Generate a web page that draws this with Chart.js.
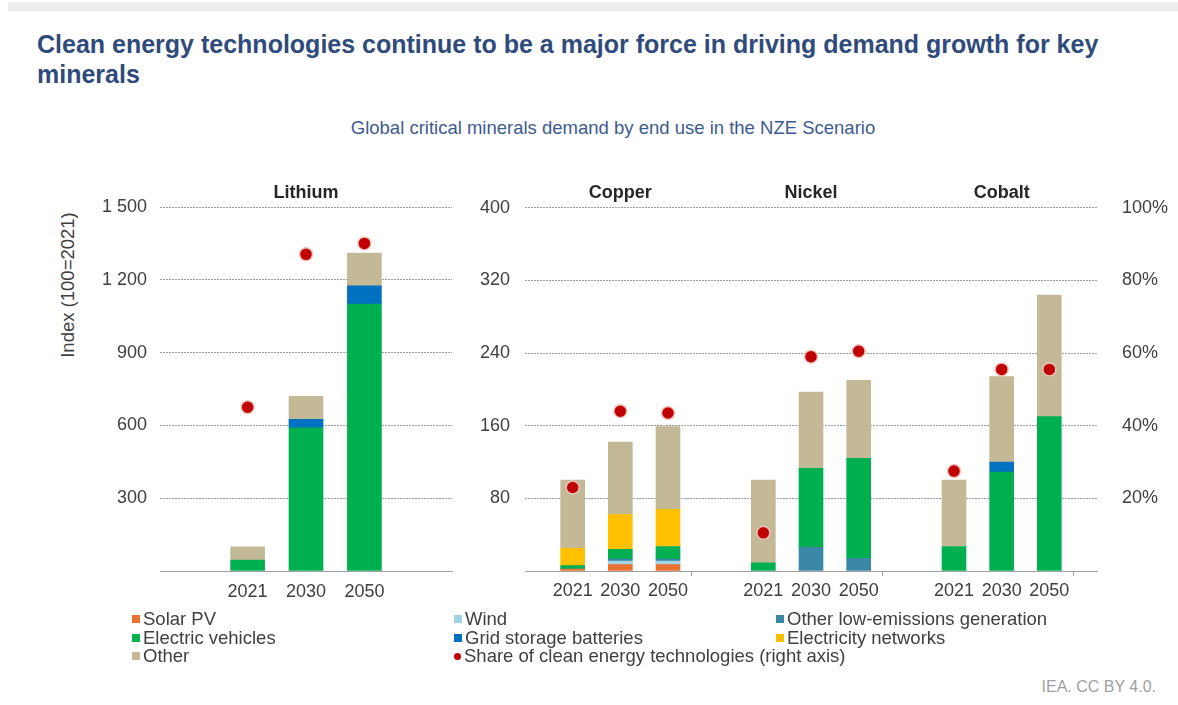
<!DOCTYPE html>
<html>
<head>
<meta charset="utf-8">
<script src="https://cdn.jsdelivr.net/npm/chart.js@4.4.0/dist/chart.umd.min.js"></script>
<style>
    body { margin: 0; background: #fff; font-family: "Liberation Sans", Arial, sans-serif; }
    #page { position: relative; width: 1178px; height: 705px; overflow: hidden; }
    .topbar { position: absolute; left: 8px; top: 2px; right: 0; height: 9px; background: #ededed; }
    h1 { position: absolute; left: 37px; top: 29px; width: 1112px; margin: 0; font-size: 25px; line-height: 30px; color: #2f4b7c; font-weight: bold; }
    .sub { position: absolute; left: 0; width: 1226px; top: 117px; text-align: center; font-size: 18.5px; color: #3d5b8f; }
    .ytitle { position: absolute; left: -22px; top: 274px; width: 180px; text-align: center; font-size: 18.5px; color: #404040; transform: rotate(-90deg); }
    canvas { position: absolute; }
    #lithiumChart { left: 0; top: 180px; }
    #mineralsChart { left: 460px; top: 180px; }
    .legend-item { position: absolute; font-size: 18.5px; color: #404040; white-space: nowrap; line-height: 19px; }
    .legend-item i { display: inline-block; width: 8px; height: 8px; margin-right: 3px; vertical-align: 2px; }
    .legend-item i.dot { width: 7px; height: 7px; border-radius: 50%; }
    .credit { position: absolute; right: 22px; top: 678px; font-size: 16px; color: #a0a0a0; }
</style>
</head>
<body>
<div id="page">
    <div class="topbar"></div>
    <h1>Clean energy technologies continue to be a major force in driving demand growth for key minerals</h1>
    <div class="sub">Global critical minerals demand by end use in the NZE Scenario</div>
    <div class="ytitle">Index (100=2021)</div>
    <canvas id="lithiumChart" width="460" height="430"></canvas>
    <canvas id="mineralsChart" width="718" height="430"></canvas>
    <div id="legend"></div>
    <div class="credit">IEA. CC BY 4.0.</div>
</div>
<script>
// Years shown under every mineral
const years = ['2021', '2030', '2050'];
const minerals = ['Copper', 'Nickel', 'Cobalt'];

// Lithium (left axis, index 100=2021)
const lithiumEV = [45, 590, 1100];
const lithiumGrid = [0, 35, 75];
const lithiumOther = [55, 95, 135];
const lithiumShare = [45, 87, 90];

// Copper 2021/2030/2050, Nickel 2021/2030/2050, Cobalt 2021/2030/2050
const solarPV = [2, 7, 7, 0, 0, 0, 0, 0, 0];
const wind = [0, 4, 4, 0, 0, 0, 0, 0, 0];
const otherLowEmissions = [0, 2, 2, 0, 26, 14, 0, 0, 0];
const electricVehicles = [4, 11, 14, 9, 87, 110, 27, 109, 170];
const gridStorage = [0, 0, 0, 0, 0, 0, 0, 11, 0];
const electricityNetworks = [19, 38, 41, 0, 0, 0, 0, 0, 0];
const other = [75, 80, 91, 91, 84, 86, 73, 94, 134];
const cleanShare = [23, 44, 43.5, 10.5, 59, 60.5, 27.5, 55.5, 55.5];

// Tick labels
const lithiumTicks = [0, 300, 600, 900, 1200, 1500];
const indexTicks = [0, 80, 160, 240, 320, 400];
const shareTicks = [0, 20, 40, 60, 80, 100];

const colors = {
    solar: '#e97132',
    wind: '#a3d3e2',
    lowEm: '#3b87a8',
    ev: '#00b050',
    grid: '#0070c0',
    networks: '#ffc000',
    other: '#c4b996',
    share: '#c00000'
};

Chart.defaults.font.family = '"Liberation Sans", Arial, sans-serif';
Chart.defaults.font.size = 18;
Chart.defaults.color = '#404040';

const gridColor = '#a0a0a0';

function spaced(v) {
    return String(v).replace(/\B(?=(\d{3})+(?!\d))/g, ' ');
}

// Lithium: one empty slot either side; others: empty slot between minerals
const lithiumLabels = ['', ...years, ''];
const mineralLabels = [''];
minerals.forEach(() => { mineralLabels.push(...years, ''); });

function padLithium(arr) {
    return [null, ...arr.map(v => v === 0 ? null : v), null];
}

function spread(arr) {
    const out = [null];
    for (let m = 0; m < minerals.length; m++) {
        arr.slice(m * 3, m * 3 + 3).forEach(v => out.push(v === 0 ? null : v));
        out.push(null);
    }
    return out;
}

function barSet(label, data, color, thickness) {
    return { type: 'bar', label: label, data: data, backgroundColor: color, barThickness: thickness, order: 1, yAxisID: 'y' };
}

function shareSet(data) {
    return {
        type: 'line', label: 'Share of clean energy technologies (right axis)', data: data,
        showLine: false, yAxisID: 'y2', order: 0,
        pointRadius: 6.5, pointBackgroundColor: colors.share,
        pointBorderColor: '#f3c4bd', pointBorderWidth: 1.5
    };
}

// Panel names drawn above the plot area
const panelTitles = {
    id: 'panelTitles',
    afterDraw(chart, args, opts) {
        const ctx = chart.ctx;
        const xScale = chart.scales.x;
        ctx.save();
        ctx.font = 'bold 18px "Liberation Sans", Arial, sans-serif';
        ctx.fillStyle = '#262626';
        ctx.textAlign = 'center';
        ctx.textBaseline = 'middle';
        opts.names.forEach((name, i) => {
            ctx.fillText(name, xScale.getPixelForValue(opts.centers[i]), 13);
        });
        ctx.restore();
    }
};

function yScale(ticks, width, padding, position) {
    return {
        position: position,
        stacked: true,
        min: ticks[0],
        max: ticks[ticks.length - 1],
        afterBuildTicks: s => { s.ticks = ticks.map(v => ({ value: v })); },
        afterFit: s => { s.width = width; },
        border: { display: false, dash: [2, 1] },
        grid: {
            drawTicks: false,
            color: c => c.tick && c.tick.value === 0 ? 'transparent' : gridColor
        },
        ticks: {
            padding: padding,
            callback: v => v === 0 ? '' : spaced(v)
        }
    };
}

// Lithium chart
new Chart(document.getElementById('lithiumChart'), {
    type: 'bar',
    data: {
        labels: lithiumLabels,
        datasets: [
            shareSet(padLithium(lithiumShare)),
            barSet('Electric vehicles', padLithium(lithiumEV), colors.ev, 34),
            barSet('Grid storage batteries', padLithium(lithiumGrid), colors.grid, 34),
            barSet('Other', padLithium(lithiumOther), colors.other, 34)
        ]
    },
    options: {
        responsive: false,
        animation: false,
        layout: { padding: { top: 27, right: 7, left: 0, bottom: 0 } },
        plugins: {
            legend: { display: false },
            tooltip: { enabled: false },
            panelTitles: { names: ['Lithium'], centers: [2] }
        },
        scales: {
            x: {
                stacked: true,
                afterFit: s => { s.height = 39; },
                border: { display: true, color: gridColor },
                grid: { display: false },
                ticks: { padding: 2, maxRotation: 0, autoSkip: false }
            },
            y: yScale(lithiumTicks, 160, 13, 'left'),
            y2: { display: false, min: 0, max: 100 }
        }
    },
    plugins: [panelTitles]
});

// Copper, nickel and cobalt chart
const boundaryTicks = [0, 4, 8, 12];
new Chart(document.getElementById('mineralsChart'), {
    type: 'bar',
    data: {
        labels: mineralLabels,
        datasets: [
            shareSet(spread(cleanShare)),
            barSet('Solar PV', spread(solarPV), colors.solar, 24),
            barSet('Wind', spread(wind), colors.wind, 24),
            barSet('Other low-emissions generation', spread(otherLowEmissions), colors.lowEm, 24),
            barSet('Electric vehicles', spread(electricVehicles), colors.ev, 24),
            barSet('Grid storage batteries', spread(gridStorage), colors.grid, 24),
            barSet('Electricity networks', spread(electricityNetworks), colors.networks, 24),
            barSet('Other', spread(other), colors.other, 24)
        ]
    },
    options: {
        responsive: false,
        animation: false,
        layout: { padding: { top: 27, right: 0, left: 0, bottom: 0 } },
        plugins: {
            legend: { display: false },
            tooltip: { enabled: false },
            panelTitles: { names: minerals, centers: [2, 6, 10] }
        },
        scales: {
            x: {
                stacked: true,
                offset: false,
                afterFit: s => { s.height = 39; },
                border: { display: true, color: gridColor },
                grid: {
                    drawOnChartArea: false,
                    tickLength: 5,
                    tickColor: c => boundaryTicks.includes(c.index) ? gridColor : 'transparent'
                },
                ticks: { padding: 4, maxRotation: 0, autoSkip: false }
            },
            y: yScale(indexTicks, 65, 15, 'left'),
            y2: {
                position: 'right',
                min: 0,
                max: 100,
                afterBuildTicks: s => { s.ticks = shareTicks.map(v => ({ value: v })); },
                afterFit: s => { s.width = 81; },
                border: { display: false },
                grid: { display: false },
                ticks: { padding: 17, callback: v => v === 0 ? '' : v + '%' }
            }
        }
    },
    plugins: [panelTitles]
});

// Legend
const legendRows = [
    [['Solar PV', colors.solar], ['Wind', colors.wind], ['Other low-emissions generation', colors.lowEm]],
    [['Electric vehicles', colors.ev], ['Grid storage batteries', colors.grid], ['Electricity networks', colors.networks]],
    [['Other', colors.other], ['Share of clean energy technologies (right axis)', colors.share, true]]
];
const legendCols = [132, 454, 776];
const legendEl = document.getElementById('legend');
legendRows.forEach((row, r) => {
    row.forEach((item, c) => {
        const div = document.createElement('div');
        div.className = 'legend-item';
        div.style.left = legendCols[c] + 'px';
        div.style.top = (609 + r * 18.5) + 'px';
        div.innerHTML = '<i class="' + (item[2] ? 'dot' : '') + '" style="background:' + item[1] + '"></i>' + item[0];
        legendEl.appendChild(div);
    });
});
</script>
</body>
</html>
